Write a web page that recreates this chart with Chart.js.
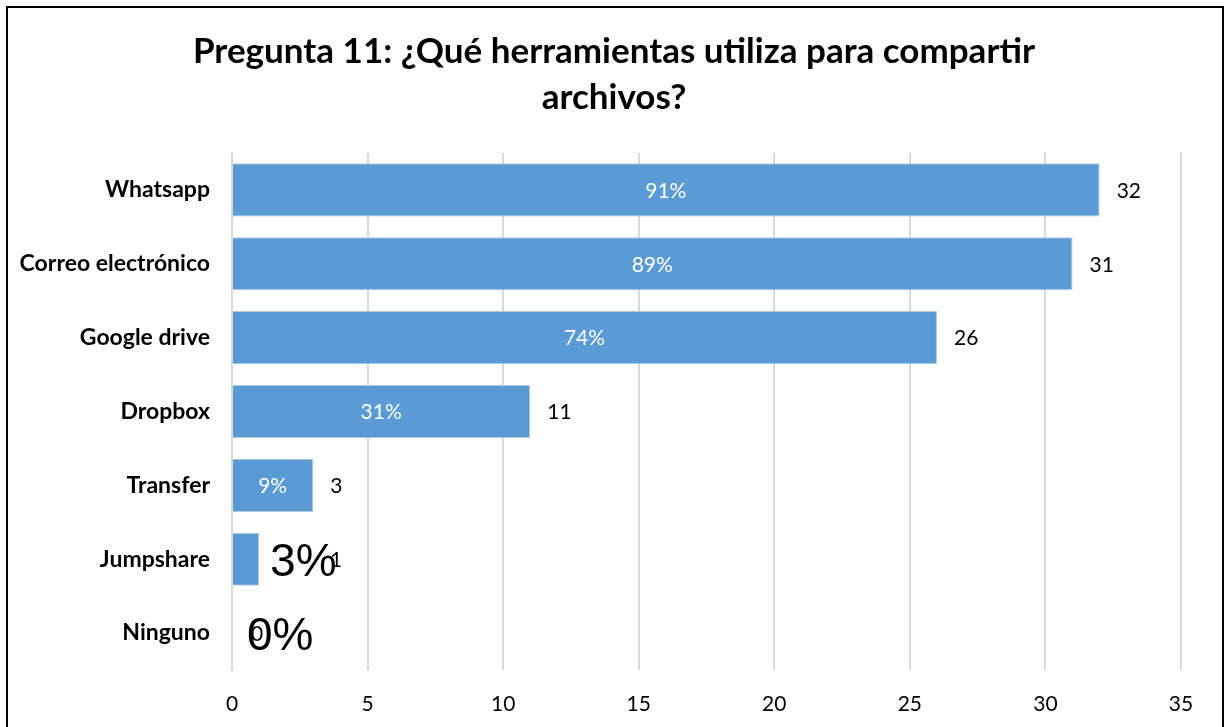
<!DOCTYPE html>
<html>
<head>
<meta charset="utf-8">
<script src="https://cdn.jsdelivr.net/npm/chart.js@4/dist/chart.umd.min.js"></script>
<style>
  html, body { margin: 0; padding: 0; background: #fff; }
  #wrap { position: relative; width: 1224px; height: 727px; overflow: hidden; }
  #frame { position: absolute; left: 6px; top: 6px; width: 1214px; height: 740px; border: 2px solid #000; }
  canvas { position: absolute; left: 0; top: 0; }
</style>
</head>
<body>
<div id="wrap">
  <div id="frame"></div>
  <canvas id="chart" width="1224" height="727"></canvas>
</div>
<script>
// data
const categories = ['Whatsapp', 'Correo electrónico', 'Google drive', 'Dropbox', 'Transfer', 'Jumpshare', 'Ninguno'];
const counts = [32, 31, 26, 11, 3, 1, 0];
const percents = ['91%', '89%', '74%', '31%', '9%', '3%', '0%'];
const xTicks = [0, 5, 10, 15, 20, 25, 30, 35];
const titleLines = ['Pregunta 11: ¿Qué herramientas utiliza para compartir', 'archivos?'];

const FONT = 'Lato, "Open Sans", sans-serif';

// title is centred on the whole frame, not on the plot area
const frameTitle = {
    id: 'frameTitle',
    afterDraw(chart) {
        const ctx = chart.ctx;
        ctx.save();
        ctx.font = 'bold 35px ' + FONT;
        ctx.fillStyle = '#000';
        ctx.textAlign = 'center';
        ctx.textBaseline = 'alphabetic';
        titleLines.forEach(function(line, i) {
            ctx.fillText(line, 614, 63 + i * 46);
        });
        ctx.restore();
    }
};

// draws the count next to each bar and the percentage inside it
const barLabels = {
    id: 'barLabels',
    afterDatasetsDraw(chart) {
        const ctx = chart.ctx;
        const meta = chart.getDatasetMeta(0);
        ctx.save();
        meta.data.forEach(function(bar, i) {
            const end = bar.x;
            const y = bar.y;
            // count label
            ctx.font = '21px ' + FONT;
            ctx.fillStyle = '#000';
            ctx.textAlign = 'left';
            ctx.textBaseline = 'middle';
            let cx = end + 17;
            if (i === 5) cx = end + 71;
            if (i === 6) cx = end + 19;
            ctx.fillText(String(counts[i]), cx, y + 1);
            // percentage label
            if (i < 5) {
                ctx.font = '21px ' + FONT;
                ctx.fillStyle = '#fff';
                ctx.textAlign = 'center';
                ctx.fillText(percents[i], (chart.chartArea.left + end) / 2, y + 1);
            } else {
                ctx.font = '46px "Liberation Sans", Arial, sans-serif';
                ctx.fillStyle = '#000';
                ctx.textAlign = 'left';
                ctx.fillText(percents[i], end + (i === 5 ? 11 : 15), y + 4);
            }
        });
        ctx.restore();
    }
};

const ctx = document.getElementById('chart').getContext('2d');
new Chart(ctx, {
    type: 'bar',
    data: {
        labels: categories,
        datasets: [{
            data: counts,
            backgroundColor: '#5b9bd5',
            borderColor: '#b4c8dc',
            borderWidth: 1,
            barPercentage: 0.72,
            categoryPercentage: 1
        }]
    },
    options: {
        indexAxis: 'y',
        responsive: false,
        animation: false,
        layout: { padding: { left: 10, right: 43, top: 153, bottom: 0 } },
        plugins: {
            legend: { display: false },
            tooltip: { enabled: false },
            title: { display: false }
        },
        scales: {
            x: {
                min: 0,
                max: 35,
                afterBuildTicks: function(scale) {
                    scale.ticks = xTicks.map(function(v) { return { value: v }; });
                },
                afterFit: function(scale) { scale.height = 57; },
                grid: { color: '#d9d9d9', lineWidth: 2, drawTicks: false },
                border: { display: false },
                ticks: { color: '#000', padding: 22, font: { family: FONT, size: 21 } }
            },
            y: {
                afterFit: function(scale) { scale.width = 222; },
                grid: { display: false, drawTicks: false },
                border: { display: true, color: '#d9d9d9', width: 2 },
                ticks: { color: '#000', padding: 22, font: { family: FONT, size: 23, weight: 'bold' } }
            }
        }
    },
    plugins: [barLabels, frameTitle]
});
</script>
</body>
</html>
